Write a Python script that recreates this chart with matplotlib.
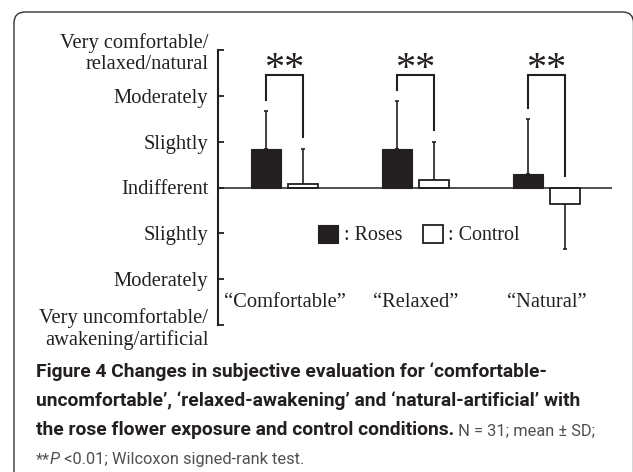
import matplotlib
matplotlib.use('Agg')
import matplotlib.pyplot as plt
from matplotlib.patches import FancyBboxPatch
from matplotlib.transforms import IdentityTransform
from matplotlib import font_manager
import numpy as np

# ---------------- data ----------------
categories = ['\u201cComfortable\u201d', '\u201cRelaxed\u201d', '\u201cNatural\u201d']
roses_mean = [0.83, 0.85, 0.30]
roses_sd = [0.84, 1.03, 1.19]
control_mean = [0.07, 0.16, -0.35]
control_sd = [0.78, 0.84, 1.00]
series_labels = [': Roses', ': Control']
ytick_values = [-3, -2, -1, 0, 1, 2, 3]
ytick_labels = ['Very uncomfortable/\nawakening/artificial', 'Moderately', 'Slightly',
                'Indifferent', 'Slightly', 'Moderately', 'Very comfortable/\nrelaxed/natural']
sig_labels = ['**', '**', '**']

caption_l1 = 'Figure 4 Changes in subjective evaluation for \u2018comfortable-'
caption_l2 = 'uncomfortable\u2019, \u2018relaxed-awakening\u2019 and \u2018natural-artificial\u2019 with'
caption_l3b = 'the rose flower exposure and control conditions.'
caption_l3r = ' N = 31; mean \u00b1 SD;'
caption_l4a = '**'
caption_l4b = 'P'
caption_l4c = ' <0.01; Wilcoxon signed-rank test.'

# ---------------- style ----------------
W, H = 633, 472
INK = '#231f20'
GREY = '#505050'
SERIF = 'Liberation Serif'
SANS = 'Roboto'
try:
    font_manager.findfont(font_manager.FontProperties(family='Liberation Sans Narrow'),
                          fallback_to_default=False)
    SANS_REG = 'Liberation Sans Narrow'
except Exception:
    SANS_REG = 'Roboto'
FS = 14.8

fig = plt.figure(figsize=(W / 100, H / 100), dpi=100)
fig.patch.set_facecolor('white')

# outer rounded frame
frame = FancyBboxPatch((14, -20), 619.5, 460 + 20, boxstyle='round,pad=0,rounding_size=11',
                       transform=IdentityTransform(), facecolor='none', edgecolor='#333333',
                       linewidth=1.0)
fig.add_artist(frame)

ax_left, ax_right = 218, 612
ax_top, ax_bot = 50, 325
ax = fig.add_axes([ax_left / W, 1 - ax_bot / H, (ax_right - ax_left) / W, (ax_bot - ax_top) / H])
ax.set_facecolor('none')

x = np.arange(len(categories))
off = 0.141
bw = 0.23
rm = np.array(roses_mean); rs = np.array(roses_sd)
cm = np.array(control_mean); cs = np.array(control_sd)

def one_sided(m, s):
    lower = np.where(m < 0, s, 0)
    upper = np.where(m >= 0, s, 0)
    return [lower, upper]

ax.errorbar(x - off, rm, yerr=one_sided(rm, rs), fmt='none', ecolor=INK, elinewidth=1.2,
            capsize=1.5, capthick=1.2, zorder=2)
ax.errorbar(x + off, cm, yerr=one_sided(cm, cs), fmt='none', ecolor=INK, elinewidth=1.2,
            capsize=1.5, capthick=1.2, zorder=2)
b1 = ax.bar(x - off, rm, width=bw, color=INK, edgecolor=INK, linewidth=0.8, zorder=3)
b2 = ax.bar(x + off, cm, width=bw, color='white', edgecolor=INK, linewidth=1.3, zorder=3)

ax.axhline(0, color=INK, linewidth=1.1, zorder=4)

# significance brackets
gap = 0.25
top = 2.46
for i in range(len(categories)):
    r_top = rm[i] + rs[i] if rm[i] >= 0 else 0
    c_top = cm[i] + cs[i] if cm[i] >= 0 else 0
    xl, xr = x[i] - off, x[i] + off
    ax.plot([xl, xl, xr, xr], [r_top + gap, top, top, c_top + gap], color=INK,
            linewidth=1.5, solid_joinstyle='miter', zorder=3)
    ax.text(x[i], 2.57, sig_labels[i], ha='center', va='center', fontsize=29,
            family=SERIF, color=INK)

for i, c in enumerate(categories):
    ax.text(x[i], -2.5, c, ha='center', va='center', fontsize=FS, family=SERIF, color=INK)

ax.set_xlim(-0.508, 2.5)
ax.set_ylim(-3, 3)
ax.set_xticks([])
ax.set_yticks(ytick_values)
ax.set_yticklabels(ytick_labels, fontsize=FS, family=SERIF, color=INK, linespacing=1.15)
ax.tick_params(axis='y', direction='in', length=4, width=1.3, color=INK, pad=7)
for s in ['top', 'right', 'bottom']:
    ax.spines[s].set_visible(False)
ax.spines['left'].set_linewidth(1.5)
ax.spines['left'].set_color(INK)

leg = ax.legend([b1, b2], series_labels, ncol=2, frameon=False, loc='center left',
                bbox_to_anchor=(318 / W, 1 - 235 / H), bbox_transform=fig.transFigure,
                handlelength=1.0, handleheight=1.0, handletextpad=0.3, columnspacing=1.0,
                borderpad=0, borderaxespad=0, prop={'family': SERIF, 'size': FS - 0.4})
for t in leg.get_texts():
    t.set_color(INK)

# ---------------- caption ----------------
renderer = fig.canvas.get_renderer()
x0 = 36

def width_at10(s, fam, **kw):
    p = fig.text(0, 0, s, fontsize=10, family=fam, **kw)
    w = p.get_window_extent(renderer).width
    p.remove()
    return w

fs = 10 * (583 - x0) / width_at10(caption_l2, SANS, weight='bold')
fs_reg = 10 * (304 - x0) / width_at10(caption_l4a + caption_l4b + caption_l4c, SANS_REG)

base = [377, 406, 435, 464]
def put(xpx, ypx, s, size, fam, **kw):
    t = fig.text(xpx / W, 1 - ypx / H, s, ha='left', va='baseline', fontsize=size,
                 family=fam, **kw)
    return t, t.get_window_extent(renderer).x1

put(x0, base[0], caption_l1, fs, SANS, weight='bold', color=INK)
put(x0, base[1], caption_l2, fs, SANS, weight='bold', color=INK)
_, xe = put(x0, base[2], caption_l3b, fs, SANS, weight='bold', color=INK)
put(xe, base[2], caption_l3r, fs_reg, SANS_REG, color=GREY)
_, xe = put(x0, base[3], caption_l4a, fs_reg, SANS_REG, color=GREY)
_, xe = put(xe, base[3], caption_l4b, fs_reg, SANS_REG, style='italic', color=GREY)
put(xe, base[3], caption_l4c, fs_reg, SANS_REG, color=GREY)

fig.savefig('out.png', dpi=100)
